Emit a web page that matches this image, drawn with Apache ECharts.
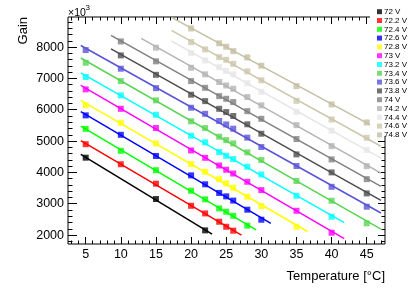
<!DOCTYPE html>
<html><head><meta charset="utf-8">
<script src="https://cdn.jsdelivr.net/npm/echarts@6/dist/echarts.min.js"></script>
<style>html,body{margin:0;padding:0;background:#fff}#c{width:409px;height:294px}</style>
</head><body><div id="c"></div>
<script>
// ---- data ----
const seriesNames = ['72 V','72.2 V','72.4 V','72.6 V','72.8 V','73 V','73.2 V','73.4 V','73.6 V','73.8 V','74 V','74.2 V','74.4 V','74.6 V','74.8 V'];
const seriesColors = ['#000000','#ff0000','#00ff00','#0000ff','#ffff00','#ff00ff','#00ffff','#59d454','#5954d8','#4d4d4d','#808080','#b3b3b3','#e6e6e6','#ccc7ab','#c4bea2'];

const T_72_0 = [5, 15, 22];
const G_72_0 = [4470, 3150, 2150];
const T_72_2 = [5, 10, 15, 20, 22, 24, 25, 26];
const G_72_2 = [4900, 4260, 3640, 2935, 2690, 2425, 2265, 2140];
const T_72_4 = [5, 10, 15, 20, 22, 24, 25, 26, 28];
const G_72_4 = [5390, 4690, 4070, 3415, 3140, 2850, 2745, 2615, 2300];
const T_72_6 = [5, 10, 15, 20, 22, 24, 25, 26, 28, 30];
const G_72_6 = [5820, 5200, 4525, 3905, 3620, 3345, 3235, 3100, 2810, 2490];
const T_72_8 = [5, 10, 15, 20, 22, 24, 25, 26, 28, 30, 35];
const G_72_8 = [6140, 5585, 4925, 4265, 4020, 3785, 3650, 3510, 3225, 2925, 2265];
const T_73_0 = [5, 10, 15, 20, 22, 24, 25, 26, 28, 30, 35, 40];
const G_73_0 = [6650, 6030, 5415, 4700, 4465, 4220, 4085, 3965, 3700, 3435, 2775, 2075];
const T_73_2 = [5, 10, 15, 20, 22, 24, 25, 26, 28, 30, 35, 40];
const G_73_2 = [7045, 6460, 5840, 5170, 4960, 4650, 4530, 4425, 4180, 3935, 3255, 2585];
const T_73_4 = [5, 10, 15, 20, 22, 24, 25, 26, 28, 30, 35, 40, 45];
const G_73_4 = [7500, 6915, 6300, 5630, 5415, 5140, 5030, 4925, 4640, 4395, 3725, 3095, 2375];
const T_73_6 = [5, 10, 15, 20, 22, 24, 25, 26, 28, 30, 35, 40, 45];
const G_73_6 = [7905, 7310, 6690, 6065, 5870, 5640, 5530, 5395, 5110, 4810, 4205, 3540, 2905];
const T_73_8 = [10, 15, 20, 22, 24, 25, 26, 28, 30, 35, 40, 45];
const G_73_8 = [7735, 7115, 6480, 6275, 6030, 5925, 5800, 5535, 5235, 4575, 4000, 3330];
const T_74_0 = [10, 15, 20, 22, 24, 25, 26, 28, 30, 35, 40, 45];
const G_74_0 = [8180, 7545, 6915, 6700, 6435, 6350, 6245, 5955, 5710, 5065, 4415, 3785];
const T_74_2 = [15, 20, 22, 24, 25, 26, 28, 30, 35, 40, 45];
const G_74_2 = [7980, 7340, 7130, 6885, 6775, 6670, 6405, 6140, 5510, 4840, 4200];
const T_74_4 = [20, 22, 24, 25, 26, 28, 30, 35, 40, 45];
const G_74_4 = [7810, 7575, 7360, 7240, 7130, 6850, 6575, 5935, 5330, 4715];
const T_74_6 = [20, 22, 24, 25, 26, 28, 30, 35, 40, 45];
const G_74_6 = [8160, 7925, 7680, 7595, 7465, 7225, 6940, 6285, 5690, 5105];
const T_74_8 = [20, 24, 25, 26, 28, 30, 35, 40, 45];
const G_74_8 = [8595, 8120, 8010, 7870, 7670, 7405, 6755, 6170, 5595];

const seriesT = [T_72_0,T_72_2,T_72_4,T_72_6,T_72_8,T_73_0,T_73_2,T_73_4,T_73_6,T_73_8,T_74_0,T_74_2,T_74_4,T_74_6,T_74_8];
const seriesG = [G_72_0,G_72_2,G_72_4,G_72_6,G_72_8,G_73_0,G_73_2,G_73_4,G_73_6,G_73_8,G_74_0,G_74_2,G_74_4,G_74_6,G_74_8];

const xTickLabels = [5, 10, 15, 20, 25, 30, 35, 40, 45];
const yTickLabels = [2000, 3000, 4000, 5000, 6000, 7000, 8000];

// ---- layout constants ----
const X_MIN = 2.48, X_MAX = 47.6, Y_MIN = 1715, Y_MAX = 8960;
const FONT = "'Liberation Sans', Arial, Helvetica, sans-serif";
const xMinor = []; for (let v = 3; v <= 47; v++) if (xTickLabels.indexOf(v) < 0) xMinor.push(v);
const yMinor = []; for (let v = 1800; v <= 8800; v += 200) if (yTickLabels.indexOf(v) < 0) yMinor.push(v);

function xAx(pos, ticks, len, labels) {
  return { type: 'value', position: pos, min: X_MIN, max: X_MAX,
    axisLine: { show: false }, splitLine: { show: false },
    axisTick: { show: true, inside: true, length: len, customValues: ticks, lineStyle: { color: '#000', width: 1 } },
    axisLabel: labels ? { show: true, customValues: xTickLabels, formatter: v => String(v), color: '#000', fontSize: 12.5, fontFamily: FONT, margin: 4 } : { show: false } };
}
function yAx(pos, ticks, len, labels) {
  return { type: 'value', position: pos, min: Y_MIN, max: Y_MAX,
    axisLine: { show: false }, splitLine: { show: false },
    axisTick: { show: true, inside: true, length: len, customValues: ticks, lineStyle: { color: '#000', width: 1 } },
    axisLabel: labels ? { show: true, customValues: yTickLabels, formatter: v => String(v), color: '#000', fontSize: 12.5, fontFamily: FONT, margin: 4 } : { show: false } };
}

// least-squares fit line, drawn over [0.86*min, 1.045*max]
function fitLine(ts, gs) {
  const n = ts.length; let sx = 0, sy = 0, sxx = 0, sxy = 0;
  for (let i = 0; i < n; i++) { sx += ts[i]; sy += gs[i]; sxx += ts[i]*ts[i]; sxy += ts[i]*gs[i]; }
  const b = (n*sxy - sx*sy) / (n*sxx - sx*sx); const a = (sy - b*sx) / n;
  const x0 = Math.min(...ts) * 0.86, x1 = Math.max(...ts) * 1.045;
  return [[x0, a + b*x0], [x1, a + b*x1]];
}

const series = [];
seriesNames.forEach((name, i) => {
  series.push({ name: 'fit ' + name, type: 'line', data: fitLine(seriesT[i], seriesG[i]), showSymbol: false, silent: true,
    lineStyle: { color: seriesColors[i], width: 1.5 }, z: 2, animation: false });
  series.push({ name: name, type: 'scatter', data: seriesT[i].map((t, k) => [t, seriesG[i][k]]), symbol: 'rect', symbolSize: 6,
    itemStyle: { color: seriesColors[i] }, z: 3, animation: false });
});

const chart = echarts.init(document.getElementById('c'));
chart.setOption({
  animation: false,
  backgroundColor: '#fff',
  grid: { left: 68, top: 17, right: 24, bottom: 50, show: true, borderColor: '#000', borderWidth: 1, backgroundColor: 'transparent' },
  xAxis: [ xAx('bottom', xTickLabels, 7, true), xAx('bottom', xMinor, 3.5, false), xAx('top', xTickLabels, 7, false), xAx('top', xMinor, 3.5, false) ],
  yAxis: [ yAx('left', yTickLabels, 9, true), yAx('left', yMinor, 4.5, false), yAx('right', yTickLabels, 7, false), yAx('right', yMinor, 3.5, false) ],
  legend: { orient: 'vertical', left: 372, top: 2.3, itemWidth: 5, itemHeight: 5, itemGap: 0, icon: 'rect', selectedMode: false, z: 20,
    data: seriesNames, textStyle: { fontSize: 8, lineHeight: 8.8, color: '#000', fontFamily: FONT, padding: [0, 0, 0, -3] } },
  graphic: [
    { type: 'rect', shape: { x: 370, y: 0, width: 39, height: 136 }, style: { fill: '#fff' }, z: 15, silent: true },
    { type: 'text', x: 385, y: 276, z: 20, style: { text: 'Temperature [°C]', font: '13px ' + FONT, fill: '#000', align: 'right', verticalAlign: 'middle' } },
    { type: 'text', x: 23, y: 17, rotation: Math.PI / 2, z: 20, style: { text: 'Gain', font: '13px ' + FONT, fill: '#000', align: 'right', verticalAlign: 'middle' } },
    { type: 'text', x: 68, y: 13.5, z: 20, style: { text: '×10', font: '10.5px ' + FONT, fill: '#000', align: 'left', verticalAlign: 'middle' } },
    { type: 'text', x: 85.5, y: 8, z: 20, style: { text: '3', font: '8px ' + FONT, fill: '#000', align: 'left', verticalAlign: 'middle' } }
  ],
  series: series
});
</script></body></html>
